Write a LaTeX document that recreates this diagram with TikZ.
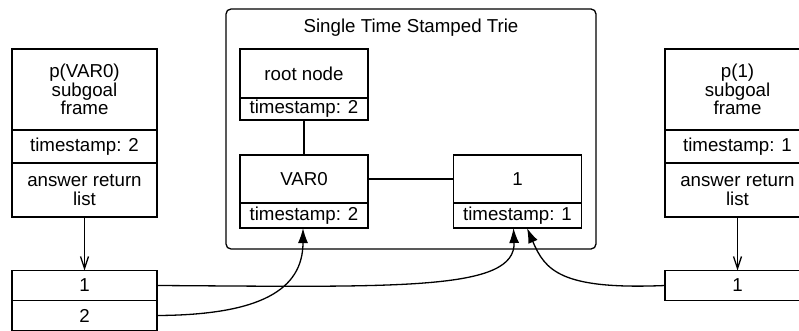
\documentclass[tikz,border=0pt]{standalone}
\usepackage{fontspec}
\setmainfont{Liberation Sans}
\usetikzlibrary{arrows.meta,positioning}

\begin{document}
\begin{tikzpicture}[
  x=1pt, y=-1pt,
  every node/.style={font=\fontsize{18.7}{18.5}\selectfont},
  cell/.style={draw,line width=1.3pt,inner sep=0pt,outer sep=0pt,align=center,minimum width=145pt},
  tcell/.style={draw,line width=1.3pt,inner sep=0pt,outer sep=0pt,align=center,minimum width=128pt},
  ptr/.style={line width=1.3pt,arrows={-Latex[length=15pt,width=10pt]}},
  down/.style={line width=1.3pt,arrows={-Straight Barb[length=12pt,width=8pt]}},
  link/.style={line width=1.3pt},
]
\useasboundingbox (0,0) rectangle (799,331);
\clip (0,0) rectangle (799,331);
% ---- left subgoal frame and its answer list ----
\node[cell,minimum height=81pt,anchor=north] (lhead) at (84.5,49) {p(VAR0)\\subgoal\\frame};
\node[cell,minimum height=33pt,below=0pt of lhead] (lts) {timestamp: 2};
\node[cell,minimum height=54pt,below=0pt of lts] (lans) {answer return\\list};
\node[cell,minimum height=30pt,anchor=north] (l1) at (84.5,270.5) {1};
\node[cell,minimum height=30pt,below=0pt of l1] (l2) {2};
\draw[down] (lans) -- (l1);
% ---- the trie ----
\node[draw,line width=1.3pt,rounded corners=5pt,minimum width=370pt,minimum height=240pt,inner sep=0pt] (trie) at (411,129) {};
\node (title) at (411,28) {Single Time Stamped Trie};
\node[tcell,minimum height=49pt,anchor=north] (root) at (304,49) {root node};
\node[tcell,minimum height=22pt,below=0pt of root] (rootts) {timestamp: 2};
\node[tcell,minimum height=48pt,anchor=north] (var) at (304,155) {VAR0};
\node[tcell,minimum height=25pt,below=0pt of var] (varts) {timestamp: 2};
\node[tcell,minimum height=48pt,anchor=north] (one) at (517.5,155) {1};
\node[tcell,minimum height=25pt,below=0pt of one] (onets) {timestamp: 1};
\draw[link] (rootts) -- (var);
\draw[link] (var) -- (one);
% ---- right subgoal frame and its answer list ----
\node[cell,minimum height=81pt,anchor=north] (rhead) at (737.5,49) {p(1)\\subgoal\\frame};
\node[cell,minimum height=33pt,below=0pt of rhead] (rts) {timestamp: 1};
\node[cell,minimum height=54pt,below=0pt of rts] (rans) {answer return\\list};
\node[cell,minimum height=30pt,anchor=north] (r1) at (737.5,270.5) {1};
\draw[down] (rans) -- (r1);
% ---- answer pointers into the trie ----
\draw[ptr] (l1.east) .. controls (400,287) and (516,291) .. ([xshift=-4pt]onets.south);
\draw[ptr] (l2.east) .. controls (260,315) and (303,290) .. ([xshift=-1pt]varts.south);
\draw[ptr] (r1.west) .. controls (560,290) and (545,270) .. ([xshift=9.5pt]onets.south);
\end{tikzpicture}
\end{document}
